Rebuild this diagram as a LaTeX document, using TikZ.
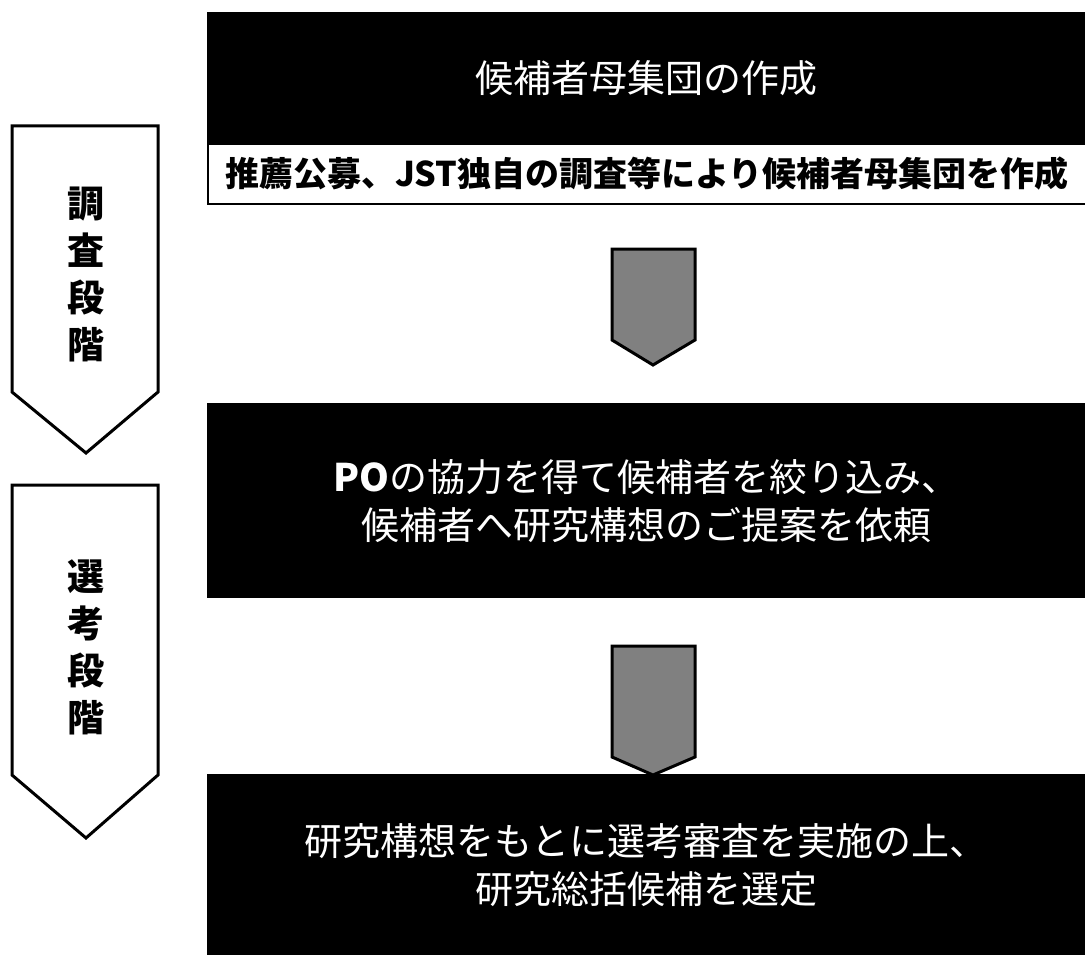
\documentclass[tikz,border=0pt]{standalone}
\usepackage{fontspec}
\newfontfamily\jp{Noto Sans CJK JP}
\usetikzlibrary{positioning}
\tikzset{
  darkbox/.style={fill=black, text=white, inner sep=0pt, anchor=north west,
    minimum width=878, align=center, font=\jp\fontsize{38}{48}\selectfont},
  subbox/.style={draw=black, line width=2pt, fill=white, inner sep=0pt,
    anchor=north west, minimum width=878, minimum height=60,
    font=\jp\bfseries\fontsize{34}{40}\selectfont},
  stage/.style={draw=black, line width=3pt, fill=white, line join=miter},
  stagetext/.style={align=center, font=\jp\bfseries\fontsize{37}{47}\selectfont},
  flow/.style={draw=black, line width=3pt, fill=black!50, line join=miter}
}
\begin{document}
\begin{tikzpicture}[x=1pt,y=-1pt]
  \useasboundingbox (0,0) rectangle (1085,955);
  % stages on the left
  \draw[stage] (12,126) -- (158,126) -- (158,392) -- (86,453) -- (12,392) -- cycle;
  \node[stagetext] (chosa) at (86,274) {調\\査\\段\\階};
  \draw[stage] (12,485) -- (158,485) -- (158,775) -- (86,838) -- (12,775) -- cycle;
  \node[stagetext] (senko) at (86,647) {選\\考\\段\\階};
  % boxes
  \node[darkbox, minimum height=131] (sakusei) at (207,12) {候補者母集団の作成};
  \node[subbox] (boshu) at (207,143) {推薦公募、JST独自の調査等により候補者母集団を作成};
  \node[darkbox, minimum height=195] (irai) at (207,403)
    {{\bfseries PO}の協力を得て候補者を絞り込み、\\候補者へ研究構想のご提案を依頼};
  \node[darkbox, minimum height=181] (sentei) at (207,774)
    {研究構想をもとに選考審査を実施の上、\\研究総括候補を選定};
  % flow arrows
  \draw[flow] (612,249) -- (695,249) -- (695,340) -- (653,365) -- (612,340) -- cycle;
  \draw[flow] (612,646) -- (695,646) -- (695,757) -- (653,775) -- (612,757) -- cycle;
\end{tikzpicture}
\end{document}
